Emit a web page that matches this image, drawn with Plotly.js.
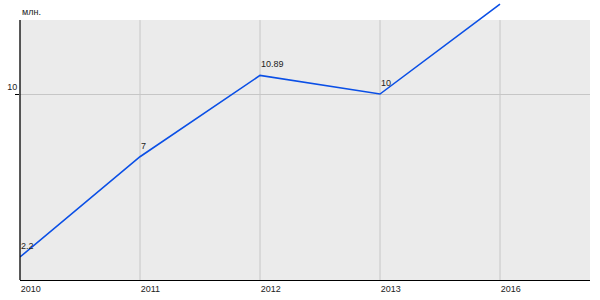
<!DOCTYPE html>
<html>
<head>
<meta charset="utf-8">
<script src="https://cdn.plot.ly/plotly-3.0.1.min.js"></script>
<style>html,body{margin:0;padding:0;background:#fff}#chart{width:600px;height:300px}</style>
</head>
<body>
<div id="chart"></div>
<script>
var years = ['2010', '2011', '2012', '2013', '2016'];
var values = [2.2, 7, 10.89, 10, 14.3];
var labels = ['2.2', '7', '10.89', '10', ''];
var yTicks = [10];
var unitLabel = 'млн.';

var yBottom = 1.1, yTopBg = 13.54, yTopAll = 14.5;
var gridColor = '#c6c6c6';
var fontFam = 'Liberation Sans, Arial, sans-serif';

var shapes = [{
  type: 'rect', xref: 'paper', yref: 'y', x0: 0, x1: 1, y0: yBottom, y1: yTopBg,
  fillcolor: '#ebebeb', line: {width: 0}, layer: 'below'
}];
years.forEach(function (yr, i) {
  if (i === 0) return;
  shapes.push({type: 'line', xref: 'x', yref: 'y', x0: i, x1: i, y0: yBottom, y1: yTopBg,
    line: {color: gridColor, width: 1}, layer: 'below'});
});
shapes.push({type: 'line', xref: 'paper', yref: 'y', x0: 0, x1: 0, y0: yBottom, y1: yTopBg,
  line: {color: '#000', width: 1.3}, layer: 'above'});

var annotations = [{
  text: unitLabel, xref: 'paper', yref: 'paper', x: 0, y: 1 - 12 / 280,
  xanchor: 'left', yanchor: 'middle', showarrow: false,
  font: {size: 9, color: '#222'}
}];
years.forEach(function (yr, i) {
  if (!labels[i]) return;
  annotations.push({
    text: labels[i], xref: 'x', yref: 'y', x: i, y: values[i],
    xanchor: 'left', yanchor: 'bottom', xshift: -1, yshift: 4,
    showarrow: false, font: {family: fontFam, size: 9, color: '#222'}
  });
});

var trace = {
  x: years, y: values, type: 'scatter', mode: 'lines',
  line: {color: '#0a4fe6', width: 1.6},
  hoverinfo: 'none'
};

var layout = {
  width: 600, height: 300,
  margin: {l: 20, r: 10, t: 0, b: 20, pad: 0},
  paper_bgcolor: '#fff', plot_bgcolor: 'rgba(0,0,0,0)',
  font: {family: fontFam, size: 9, color: '#222'},
  showlegend: false,
  xaxis: {
    type: 'category', categoryorder: 'array', categoryarray: years,
    range: [0, 4.75], showgrid: false, zeroline: false,
    showline: true, linecolor: '#000', linewidth: 1.3,
    ticks: '', ticklabelposition: 'outside right', ticklabelstandoff: 0,
    fixedrange: true
  },
  yaxis: {
    range: [yBottom, yTopAll], tickmode: 'array', tickvals: yTicks, ticktext: yTicks.map(String),
    showgrid: true, gridcolor: gridColor, gridwidth: 1, zeroline: false, showline: false,
    ticks: 'outside', ticklen: 4, tickcolor: '#000', ticklabelposition: 'outside top',
    fixedrange: true
  },
  shapes: shapes,
  annotations: annotations
};

Plotly.newPlot('chart', [trace], layout, {displayModeBar: false, staticPlot: true});
</script>
</body>
</html>
